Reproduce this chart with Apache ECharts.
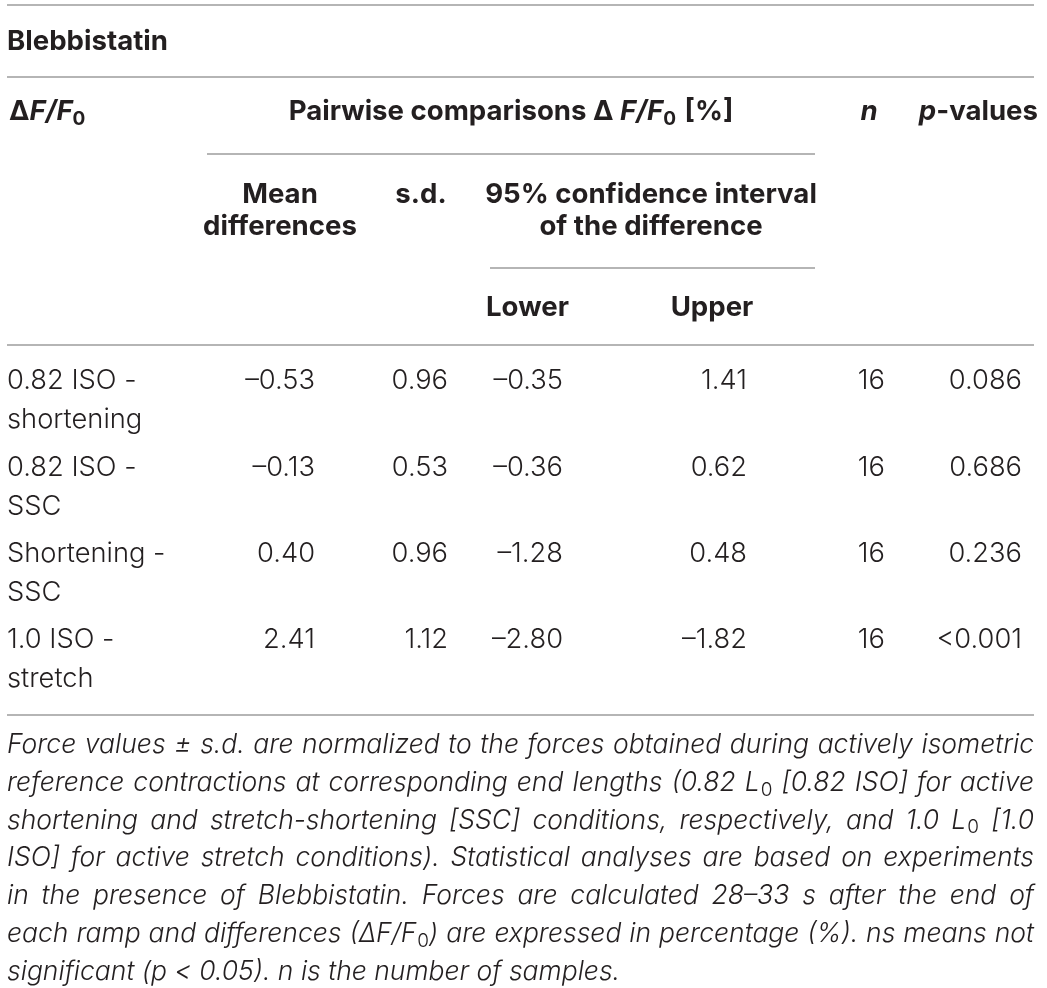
<!DOCTYPE html>
<html>
<head>
<meta charset="utf-8">
<script src="https://cdn.jsdelivr.net/npm/echarts@6/dist/echarts.min.js"></script>
<style>
html,body{margin:0;padding:0;background:#fff;}
#container{width:1047px;height:988px;}
</style>
</head>
<body>
<div id="container"></div>
<script>
// table content
var title = 'Blebbistatin';
var comparisons = ['0.82 ISO -\nshortening', '0.82 ISO -\nSSC', 'Shortening -\nSSC', '1.0 ISO -\nstretch'];
var meanDiff = [-0.53, -0.13, 0.40, 2.41];
var sdValues = [0.96, 0.53, 0.96, 1.12];
var lowerCI = [-0.35, -0.36, -1.28, -2.80];
var upperCI = [1.41, 0.62, 0.48, -1.82];
var nSamples = [16, 16, 16, 16];
var pValues = ['0.086', '0.686', '0.236', '<0.001'];
var footnote = [
	'Force values ± s.d. are normalized to the forces obtained during actively isometric',
	'reference contractions at corresponding end lengths (0.82 L{s|0} [0.82 ISO] for active',
	'shortening and stretch-shortening [SSC] conditions, respectively, and 1.0 L{s|0} [1.0',
	'ISO] for active stretch conditions). Statistical analyses are based on experiments',
	'in the presence of Blebbistatin. Forces are calculated 28–33 s after the end of',
	'each ramp and differences (ΔF/F{s|0}) are expressed in percentage (%). ns means not',
	'significant (p < 0.05). n is the number of samples.'
];

var FONT = "Inter, 'Liberation Sans', Arial, sans-serif";
var INK = '#231f20';
var RULE = '#9d9d9d';

function fmt(v) {
	return v.toFixed(2).replace('-', '–');
}

function tstyle(size, weight, italic) {
	return {fontSize: size, fontFamily: FONT, fontWeight: weight, fontStyle: italic ? 'italic' : 'normal', fill: INK};
}

var HS = 27.6;
var headRich = {
	i: {fontSize: HS, fontFamily: FONT, fontWeight: 'bold', fontStyle: 'italic', fill: INK},
	s: {fontSize: 19, fontFamily: FONT, fontWeight: 'bold', fontStyle: 'normal', fill: INK, padding: [14, 2, 0, 0]}
};

function txt(x, y, text, align, st, rich) {
	var s = Object.assign({text: text, x: x, y: y, align: align, verticalAlign: 'middle'}, st);
	if (rich) s.rich = rich;
	return {type: 'text', silent: true, style: s};
}

function rule(x1, x2, y) {
	return {type: 'line', silent: true, shape: {x1: x1, y1: y, x2: x2, y2: y}, style: {stroke: RULE, lineWidth: 1.5}};
}

var els = [];
// horizontal rules
els.push(rule(7, 1034, 5));
els.push(rule(7, 1034, 77));
els.push(rule(207, 815, 154));
els.push(rule(490, 815, 268));
els.push(rule(7, 1034, 345));
els.push(rule(7, 1034, 715));

// header
var hb = tstyle(HS, 'bold', false);
els.push(txt(7, 42, title, 'left', hb));
els.push(txt(9, 112, 'Δ{i|F/F}{s|0}', 'left', hb, headRich));
els.push(txt(511, 112, 'Pairwise comparisons Δ {i|F/F}{s|0} [%]', 'center', hb, headRich));
els.push(txt(869, 112, '{i|n}', 'center', hb, headRich));
els.push(txt(1038, 112, '{i|p}-values', 'right', hb, headRich));
els.push(txt(280, 195, 'Mean', 'center', hb));
els.push(txt(280, 227, 'differences', 'center', hb));
els.push(txt(421, 195, 's.d.', 'center', hb));
els.push(txt(651, 195, '95% confidence interval', 'center', hb));
els.push(txt(651, 227, 'of the difference', 'center', hb));
els.push(txt(486, 308, 'Lower', 'left', hb));
els.push(txt(712, 308, 'Upper', 'center', hb));

// body rows
var bs = tstyle(27.3, 300, false);
var rowY0 = 381, rowStep = 86.3;
for (var r = 0; r < comparisons.length; r++) {
	var y = rowY0 + r * rowStep;
	els.push({type: 'text', silent: true, style: Object.assign({}, bs, {text: comparisons[r], x: 7, y: y - 19.5, align: 'left', verticalAlign: 'top', lineHeight: 39})});
	els.push(txt(315, y, fmt(meanDiff[r]), 'right', bs));
	els.push(txt(448, y, fmt(sdValues[r]), 'right', bs));
	els.push(txt(563, y, fmt(lowerCI[r]), 'right', bs));
	els.push(txt(747, y, fmt(upperCI[r]), 'right', bs));
	els.push(txt(885, y, String(nSamples[r]), 'right', bs));
	els.push(txt(1022, y, pValues[r], 'right', bs));
}

// footnote, justified word by word
var FS = 26.5, SUB = 19;
var ctx = document.createElement('canvas').getContext('2d');
function measure(word) {
	var w = 0;
	var parts = word.split(/(\{s\|[^}]*\})/);
	parts.forEach(function (p) {
		if (!p) return;
		var m = p.match(/^\{s\|([^}]*)\}$/);
		if (m) {
			ctx.font = 'normal 300 ' + SUB + 'px ' + FONT;
			w += ctx.measureText(m[1]).width + 1;
		} else {
			ctx.font = 'italic 300 ' + FS + 'px ' + FONT;
			w += ctx.measureText(p).width;
		}
	});
	return w;
}
var footRich = {
	s: {fontSize: SUB, fontFamily: FONT, fontWeight: 300, fontStyle: 'normal', fill: INK, padding: [14, 0, 0, 1]}
};
var fs = tstyle(FS, 300, true);
var footX0 = 7, footX1 = 1034, footY0 = 745, footStep = 37.8;
footnote.forEach(function (line, li) {
	var y = footY0 + li * footStep;
	var words = line.split(' ');
	var widths = words.map(measure);
	var total = widths.reduce(function (a, b) { return a + b; }, 0);
	var last = li === footnote.length - 1;
	ctx.font = 'italic 300 ' + FS + 'px ' + FONT;
	var gap = last ? ctx.measureText(' ').width : (footX1 - footX0 - total) / (words.length - 1);
	var x = footX0;
	words.forEach(function (w, wi) {
		els.push(txt(x, y, w, 'left', fs, footRich));
		x += widths[wi] + gap;
	});
});

var myChart = echarts.init(document.getElementById('container'));
var option = {
	backgroundColor: '#ffffff',
	animation: false,
	graphic: {elements: els}
};
myChart.setOption(option, true);
</script>
</body>
</html>
